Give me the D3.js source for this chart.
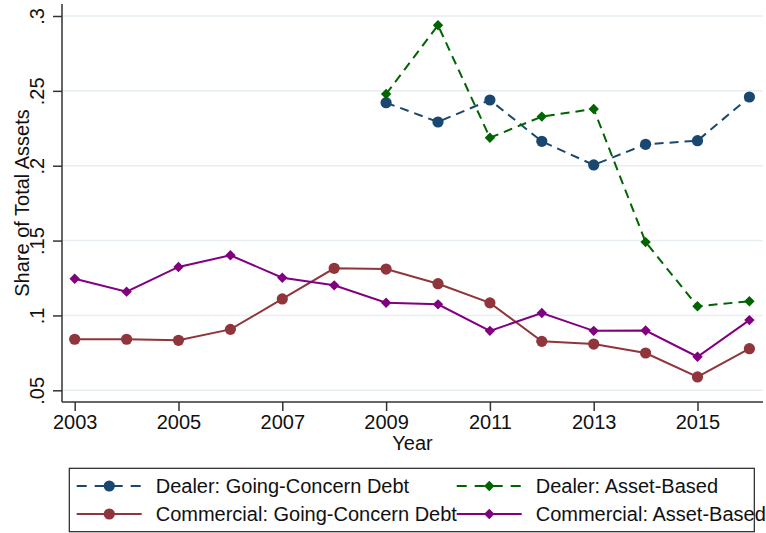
<!DOCTYPE html>
<html>
<head>
<meta charset="utf-8">
<script src="https://cdn.jsdelivr.net/npm/d3@7/dist/d3.min.js"></script>
<style>
  html, body { margin: 0; padding: 0; background: #ffffff; }
  svg { display: block; font-family: "Liberation Sans", Arial, sans-serif; }
</style>
</head>
<body>
<svg id="chart" width="766" height="533"></svg>
<script>
// Years on the horizontal axis
const years = [2003, 2004, 2005, 2006, 2007, 2008, 2009, 2010, 2011, 2012, 2013, 2014, 2015, 2016];
const dealerYears = [2009, 2010, 2011, 2012, 2013, 2014, 2015, 2016];

// Share of total assets by lender type and loan type
const dealerGoingConcern = [0.2421, 0.2292, 0.2439, 0.2163, 0.2005, 0.2143, 0.2167, 0.2459];
const dealerAssetBased   = [0.2479, 0.2938, 0.2187, 0.2328, 0.2379, 0.1490, 0.1061, 0.1095];
const commercialGoingConcern = [0.0841, 0.0841, 0.0834, 0.0907, 0.1110, 0.1315, 0.1310, 0.1212,
                                0.1084, 0.0827, 0.0809, 0.0749, 0.0589, 0.0778];
const commercialAssetBased   = [0.1245, 0.1159, 0.1324, 0.1402, 0.1252, 0.1201, 0.1085, 0.1074,
                                0.0897, 0.1016, 0.0897, 0.0899, 0.0724, 0.0969];

// Axis ticks
const xTicks = [2003, 2005, 2007, 2009, 2011, 2013, 2015];
const yTicks = [0.05, 0.10, 0.15, 0.20, 0.25, 0.30];
const yTickLabels = [".05", ".1", ".15", ".2", ".25", ".3"];

const seriesNames = [
  "Dealer: Going-Concern Debt",
  "Dealer: Asset-Based",
  "Commercial: Going-Concern Debt",
  "Commercial: Asset-Based"
];

const series = [
  { name: seriesNames[0], x: dealerYears, y: dealerGoingConcern, color: "#1a476f", dash: "9,6", marker: "circle" },
  { name: seriesNames[1], x: dealerYears, y: dealerAssetBased, color: "#006400", dash: "9,6", marker: "diamond" },
  { name: seriesNames[2], x: years, y: commercialGoingConcern, color: "#90353b", dash: null, marker: "circle" },
  { name: seriesNames[3], x: years, y: commercialAssetBased, color: "#800080", dash: null, marker: "diamond" }
];

const svg = d3.select("#chart");
const FONT = 20;

// Plot region
const plot = { left: 62, right: 763, top: 4, bottom: 402 };

const x = d3.scaleLinear().domain([2003, 2016]).range([74.7, 749.4]);
const y = d3.scaleLinear().domain([0.05, 0.30]).range([390.3, 16]);

// Grid lines
svg.append("g").selectAll("line").data(yTicks).join("line")
  .attr("x1", plot.left).attr("x2", plot.right)
  .attr("y1", d => y(d)).attr("y2", d => y(d))
  .attr("stroke", "#e6eef2").attr("stroke-width", 1.5);

// Y axis
const yAxis = d3.axisLeft(y).tickValues(yTicks).tickSize(9).tickPadding(0)
  .tickFormat((d, i) => yTickLabels[i]);
const gy = svg.append("g").attr("transform", `translate(${plot.left},0)`).call(yAxis);
gy.select(".domain").remove();
gy.append("line").attr("x1", 0).attr("x2", 0).attr("y1", plot.top).attr("y2", plot.bottom)
  .attr("stroke", "#333").attr("stroke-width", 1.5);
gy.selectAll(".tick line").attr("stroke", "#333").attr("stroke-width", 1.5);
gy.selectAll(".tick text")
  .attr("font-size", FONT).attr("fill", "#111")
  .attr("x", 0).attr("dy", null)
  .attr("text-anchor", "middle")
  .attr("transform", "translate(-18,0) rotate(-90)");

// X axis
const xAxis = d3.axisBottom(x).tickValues(xTicks).tickSize(9).tickPadding(4).tickFormat(d3.format("d"));
const gx = svg.append("g").attr("transform", `translate(0,${plot.bottom})`).call(xAxis);
gx.select(".domain").remove();
gx.append("line").attr("x1", plot.left).attr("x2", plot.right).attr("y1", 0).attr("y2", 0)
  .attr("stroke", "#333").attr("stroke-width", 1.5);
gx.selectAll(".tick line").attr("stroke", "#333").attr("stroke-width", 1.5);
gx.selectAll(".tick text").attr("font-size", FONT).attr("fill", "#111");

// Axis titles
svg.append("text")
  .attr("x", (plot.left + plot.right) / 2).attr("y", 450)
  .attr("text-anchor", "middle").attr("font-size", FONT).attr("fill", "#111")
  .text("Year");
svg.append("text")
  .attr("transform", `translate(29,${(plot.top + plot.bottom) / 2}) rotate(-90)`)
  .attr("text-anchor", "middle").attr("font-size", FONT).attr("fill", "#111")
  .text("Share of Total Assets");

// Marker drawing
const circleSym = d3.symbol().type(d3.symbolCircle).size(Math.PI * 5.6 * 5.6);
function diamondPath(r) {
  return `M0,${-r}L${r},0L0,${r}L${-r},0Z`;
}
function drawMarker(g, kind, color) {
  if (kind === "circle") {
    g.append("path").attr("d", circleSym()).attr("fill", color);
  } else {
    g.append("path").attr("d", diamondPath(5.2)).attr("fill", color);
  }
}

// Series lines and markers
const line = d3.line().x(d => x(d[0])).y(d => y(d[1]));
series.forEach(s => {
  const pts = s.x.map((yr, i) => [yr, s.y[i]]);
  const g = svg.append("g");
  g.append("path").datum(pts).attr("d", line)
    .attr("fill", "none").attr("stroke", s.color).attr("stroke-width", 2)
    .attr("stroke-dasharray", s.dash);
  pts.forEach(p => {
    const m = g.append("g").attr("transform", `translate(${x(p[0])},${y(p[1])})`);
    drawMarker(m, s.marker, s.color);
  });
});

// Legend
const legend = svg.append("g");
legend.append("rect")
  .attr("x", 69.3).attr("y", 468.3).attr("width", 685).attr("height", 63.4)
  .attr("fill", "none").attr("stroke", "#222").attr("stroke-width", 1.2);

const legendOrder = [
  { s: series[0], col: 0, row: 0 },
  { s: series[1], col: 1, row: 0 },
  { s: series[2], col: 0, row: 1 },
  { s: series[3], col: 1, row: 1 }
];
const colX = [76.7, 456.7];
const rowY = [486, 514];
legendOrder.forEach(item => {
  const gx0 = colX[item.col], gy0 = rowY[item.row];
  const g = legend.append("g").attr("transform", `translate(${gx0},${gy0})`);
  g.append("line").attr("x1", 0).attr("x2", 65).attr("y1", 0).attr("y2", 0)
    .attr("stroke", item.s.color).attr("stroke-width", 2)
    .attr("stroke-dasharray", item.s.dash ? "10,8" : null)
    .attr("stroke-dashoffset", item.s.dash ? 0 : null);
  const m = g.append("g").attr("transform", "translate(32.6,0)");
  drawMarker(m, item.s.marker, item.s.color);
  g.append("text").attr("x", 79).attr("y", 7)
    .attr("font-size", FONT).attr("fill", "#111").text(item.s.name);
});
</script>
</body>
</html>
